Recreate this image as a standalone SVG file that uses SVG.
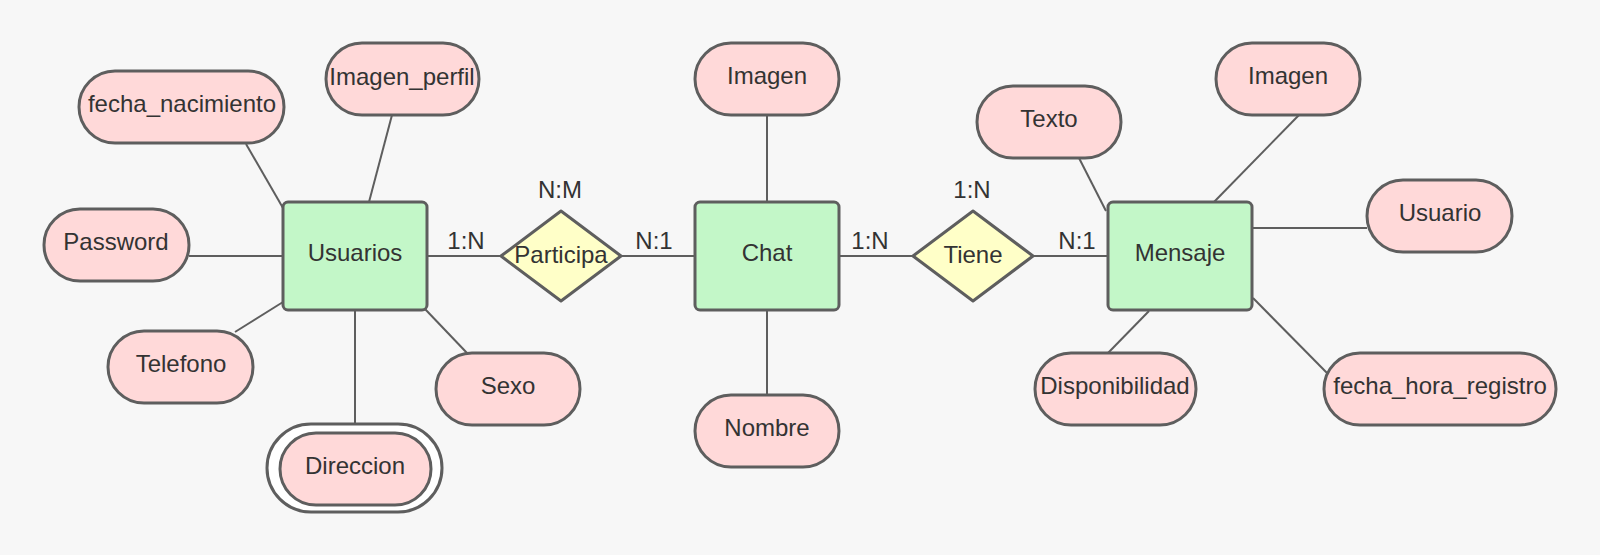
<svg xmlns="http://www.w3.org/2000/svg" width="1600" height="555" viewBox="0 0 1600 555">
<style>
.ent{fill:#c3f7c8;stroke:#5e5e5e;stroke-width:3}
.att{fill:#ffd9d9;stroke:#5e5e5e;stroke-width:3}
.rel{fill:#ffffc8;stroke:#5e5e5e;stroke-width:3;stroke-linejoin:round}
.ln{stroke:#5e5e5e;stroke-width:2;fill:none}
text{font-family:"Liberation Sans",Arial,sans-serif;font-size:24px;fill:#333333;text-anchor:middle}
</style>
<rect width="1600" height="555" fill="#f7f7f7"/>
<g id="connectors">
<line class="ln" x1="246" y1="144" x2="283" y2="208"/>
<line class="ln" x1="392" y1="115" x2="369" y2="202"/>
<line class="ln" x1="189" y1="256" x2="283" y2="256"/>
<line class="ln" x1="235" y1="332" x2="283" y2="302"/>
<line class="ln" x1="467" y1="353" x2="425" y2="309"/>
<line class="ln" x1="355" y1="310" x2="355" y2="424"/>
<line class="ln" x1="427" y1="256" x2="501" y2="256"/>
<line class="ln" x1="621" y1="256" x2="695" y2="256"/>
<line class="ln" x1="767" y1="115" x2="767" y2="202"/>
<line class="ln" x1="767" y1="310" x2="767" y2="395"/>
<line class="ln" x1="839" y1="256" x2="913" y2="256"/>
<line class="ln" x1="1033" y1="256" x2="1108" y2="256"/>
<line class="ln" x1="1079" y1="158" x2="1106" y2="211"/>
<line class="ln" x1="1299" y1="115" x2="1214" y2="202"/>
<line class="ln" x1="1251" y1="228" x2="1367" y2="228"/>
<line class="ln" x1="1149" y1="311" x2="1108" y2="353"/>
<line class="ln" x1="1253" y1="298" x2="1329" y2="375"/>
<text x="560" y="198">N:M</text>
<text x="466" y="249">1:N</text>
<text x="654" y="249">N:1</text>
<text x="870" y="249">1:N</text>
<text x="972" y="198">1:N</text>
<text x="1077" y="249">N:1</text>
</g>
<g id="usuarios"><rect class="ent" x="283" y="202" width="144" height="108" rx="5"/><text x="355" y="261">Usuarios</text></g>
<g id="chat"><rect class="ent" x="695" y="202" width="144" height="108" rx="5"/><text x="767" y="261">Chat</text></g>
<g id="mensaje"><rect class="ent" x="1108" y="202" width="144" height="108" rx="5"/><text x="1180" y="261">Mensaje</text></g>
<g id="participa"><polygon class="rel" points="561,211 621,256 561,301 501,256"/><text x="561" y="263">Participa</text></g>
<g id="tiene"><polygon class="rel" points="973,211 1033,256 973,301 913,256"/><text x="973" y="263">Tiene</text></g>
<g id="fecha_nacimiento"><rect class="att" x="79" y="71" width="205" height="72" rx="36"/><text x="182" y="112">fecha_nacimiento</text></g>
<g id="imagen_perfil"><rect class="att" x="326" y="43" width="153" height="72" rx="36"/><text x="402" y="85">Imagen_perfil</text></g>
<g id="password"><rect class="att" x="44" y="209" width="145" height="72" rx="36"/><text x="116" y="250">Password</text></g>
<g id="telefono"><rect class="att" x="108" y="331" width="145" height="72" rx="36"/><text x="181" y="372">Telefono</text></g>
<g id="sexo"><rect class="att" x="436" y="353" width="144" height="72" rx="36"/><text x="508" y="394">Sexo</text></g>
<g id="direccion"><rect x="267" y="424" width="175" height="88" rx="44" fill="#ffffff" stroke="#5e5e5e" stroke-width="3"/><rect class="att" x="280" y="433" width="151" height="72" rx="36"/><text x="355" y="474">Direccion</text></g>
<g id="chat_imagen"><rect class="att" x="695" y="43" width="144" height="72" rx="36"/><text x="767" y="84">Imagen</text></g>
<g id="nombre"><rect class="att" x="695" y="395" width="144" height="72" rx="36"/><text x="767" y="436">Nombre</text></g>
<g id="texto"><rect class="att" x="977" y="86" width="144" height="72" rx="36"/><text x="1049" y="127">Texto</text></g>
<g id="mensaje_imagen"><rect class="att" x="1216" y="43" width="144" height="72" rx="36"/><text x="1288" y="84">Imagen</text></g>
<g id="usuario"><rect class="att" x="1367" y="180" width="145" height="72" rx="36"/><text x="1440" y="221">Usuario</text></g>
<g id="disponibilidad"><rect class="att" x="1035" y="353" width="161" height="72" rx="36"/><text x="1115" y="394">Disponibilidad</text></g>
<g id="fecha_hora_registro"><rect class="att" x="1324" y="353" width="232" height="72" rx="36"/><text x="1440" y="394">fecha_hora_registro</text></g>
</svg>
